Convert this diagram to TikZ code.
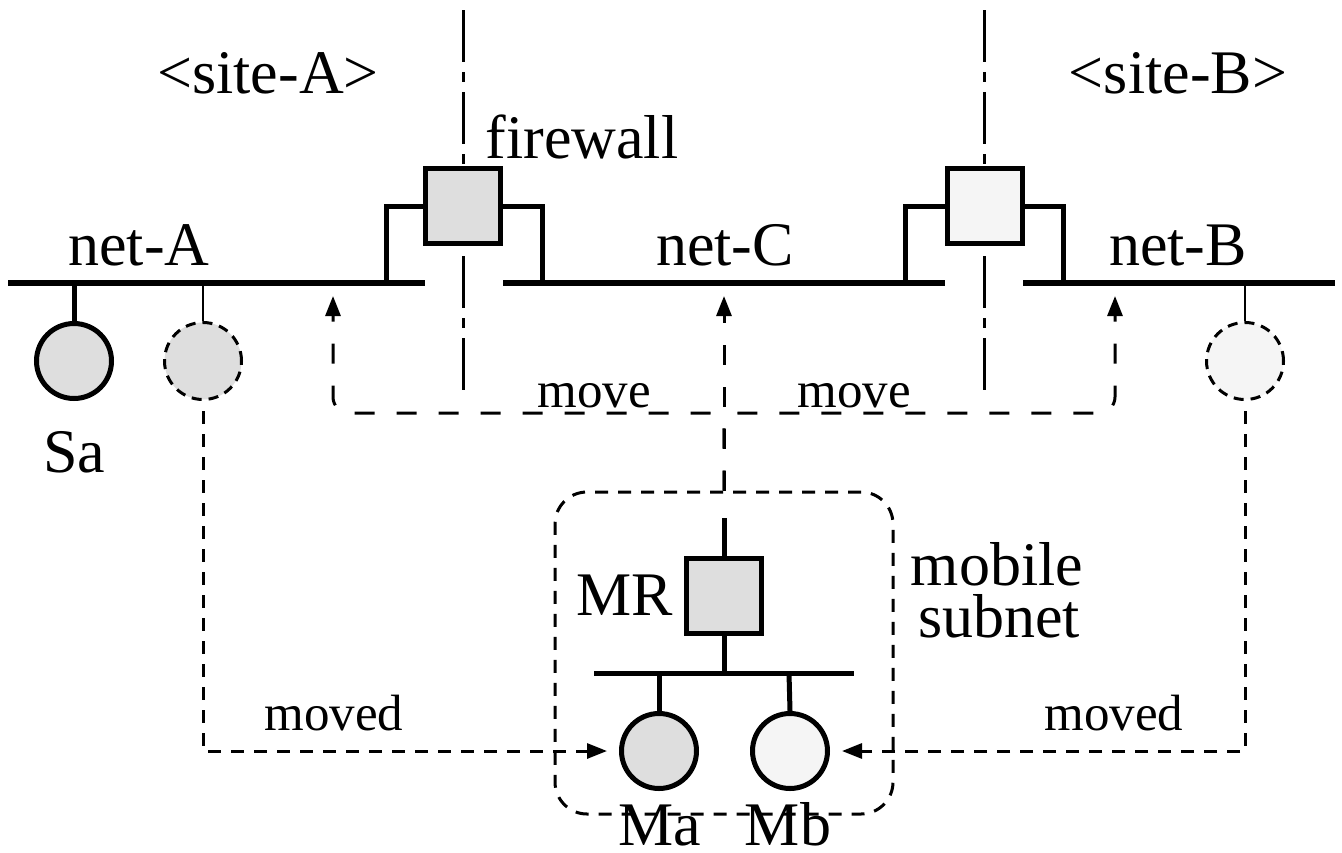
\documentclass[tikz,border=0pt]{standalone}
\usepackage{fontspec}
\setmainfont{Liberation Serif}
\usetikzlibrary{arrows.meta}
\definecolor{hostgray}{HTML}{DEDEDE}
\definecolor{hostlight}{HTML}{F5F5F5}
\begin{document}
\begin{tikzpicture}[x=1pt,y=-1pt,
  bus/.style={line width=5.5pt},
  wire/.style={line width=5pt},
  thinwire/.style={line width=2.5pt},
  host/.style={circle, draw, line width=5pt, minimum size=75pt, inner sep=0pt},
  ghost/.style={circle, draw, line width=3pt, dash pattern=on 10pt off 7pt, minimum size=77pt, inner sep=0pt},
  router/.style={rectangle, draw, line width=5pt, minimum size=75pt, inner sep=0pt},
  border/.style={line width=3pt, dash pattern=on 52pt off 10pt on 10pt off 10pt},
  movepath/.style={line width=3pt, dash pattern=on 20pt off 22pt, rounded corners=16pt, -{Triangle[length=20pt,width=15pt]}},
  movedpath/.style={line width=3pt, dash pattern=on 13pt off 10pt, -{Triangle[length=20pt,width=15pt]}},
  subnetbox/.style={rectangle, draw, line width=3pt, dash pattern=on 13pt off 10pt, rounded corners=32pt, minimum width=338pt, minimum height=322pt},
  big/.style={font=\fontsize{62}{70}\selectfont, inner sep=0pt, anchor=base},
  small/.style={font=\fontsize{51}{60}\selectfont, inner sep=0pt, anchor=base},
]
\useasboundingbox (0,0) rectangle (1342,852);

% site borders (dash-dot)
\coordinate (bA-top) at (463,10);
\coordinate (bA-bot) at (463,392);
\coordinate (bB-top) at (984,10);
\coordinate (bB-bot) at (984,392);
\draw[border] (bA-top) -- (bA-bot);
\draw[border] (bB-top) -- (bB-bot);

% networks
\coordinate (netA-l) at (8,283);
\coordinate (netA-r) at (425,283);
\coordinate (netC-l) at (503,283);
\coordinate (netC-r) at (945,283);
\coordinate (netB-l) at (1023,283);
\coordinate (netB-r) at (1335,283);
\draw[bus] (netA-l) -- (netA-r);
\draw[bus] (netC-l) -- (netC-r);
\draw[bus] (netB-l) -- (netB-r);

% firewalls
\node[router, fill=hostgray] (fwA) at (463,206) {};
\node[router, fill=hostlight] (fwB) at (985,206) {};
\coordinate (fwA-a) at (386,283);
\coordinate (fwA-c) at (542,283);
\coordinate (fwB-c) at (905,283);
\coordinate (fwB-b) at (1063,283);
\draw[wire] (fwA.west) -| (fwA-a);
\draw[wire] (fwA.east) -| (fwA-c);
\draw[wire] (fwB.west) -| (fwB-c);
\draw[wire] (fwB.east) -| (fwB-b);

% hosts on net-A / net-B
\node[host, fill=hostgray] (Sa) at (74,361) {};
\coordinate (Sa-tap) at (74,283);
\draw[wire] (Sa-tap) -- (Sa.north);
\node[ghost, fill=hostgray] (ghostA) at (203,361) {};
\coordinate (ghostA-tap) at (203,283);
\draw[thinwire] (ghostA-tap) -- (ghostA.north);
\node[ghost, fill=hostlight] (ghostB) at (1245,361) {};
\coordinate (ghostB-tap) at (1245,283);
\draw[thinwire] (ghostB-tap) -- (ghostB.north);

% mobile subnet
\node[subnetbox] (mobile) at (724,653) {};
\node[router, fill=hostgray] (MR) at (724,596) {};
\coordinate (MR-up) at (724,518);
\draw[wire] (MR-up) -- (MR.north);
\coordinate (bus-l) at (594,673);
\coordinate (bus-r) at (854,673);
\coordinate (bus-mr) at (724,673);
\draw[wire] (bus-l) -- (bus-r);
\draw[wire] (MR.south) -- (bus-mr);
\node[host, fill=hostgray] (Ma) at (659,751) {};
\node[host, fill=hostlight] (Mb) at (790,751) {};
\coordinate (Ma-tap) at (659,673);
\coordinate (Mb-tap) at (789,673);
\draw[wire] (Ma-tap) -- (Ma.north);
\draw[wire] (Mb-tap) -- (Mb.north);

% move arrows
\coordinate (mvA) at (333,296);
\coordinate (mvC) at (724,296);
\coordinate (mvB) at (1115,296);
\draw[movepath] (mobile.north) -- (724,413) -- (333,413) -- (mvA);
\draw[movepath] (mobile.north) -- (724,413) -- (1115,413) -- (mvB);
\draw[movepath] (mobile.north) -- (mvC);

% moved arrows
\draw[movedpath, shorten <=10pt, shorten >=12pt] (ghostA.south) |- (Ma.west);
\draw[movedpath, shorten <=10pt, shorten >=12pt] (ghostB.south) |- (Mb.east);

% labels
\node[big] (lsiteA) at (268,93) {<site-A>};
\node[big] (lsiteB) at (1178,93) {<site-B>};
\node[big] (lfw) at (582,158) {firewall};
\node[big] (lnetA) at (139,265) {net-A};
\node[big] (lnetC) at (725,265) {net-C};
\node[big] (lnetB) at (1178,265) {net-B};
\node[big] (lSa) at (74,472) {Sa};
\node[big] (lMR) at (625,615) {MR};
\node[big] (lmob1) at (997,585) {mobile};
\node[big] (lmob2) at (999,637) {subnet};
\node[big] (lMa) at (660,845) {Ma};
\node[big] (lMb) at (788,845) {Mb};
\node[small] (lmove1) at (594,407) {move};
\node[small] (lmove2) at (854,407) {move};
\node[small] (lmoved1) at (334,730) {moved};
\node[small] (lmoved2) at (1114,730) {moved};
\end{tikzpicture}
\end{document}
